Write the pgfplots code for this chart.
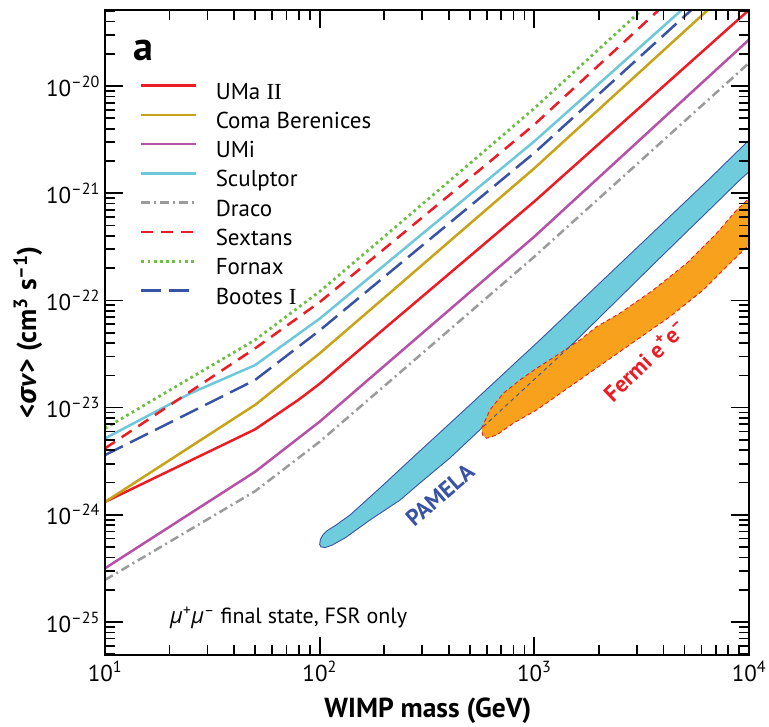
\documentclass[border=0pt]{standalone}
\usepackage{fontspec}
\setmainfont{PT Sans}
\newfontfamily\serifI{Liberation Serif}
\newfontfamily\greekf{Open Sans}
\usepackage{pgfplots}
\pgfplotsset{compat=1.18}
\definecolor{cRed}{RGB}{237,28,36}
\definecolor{cGold}{RGB}{199,163,23}
\definecolor{cMag}{RGB}{183,80,167}
\definecolor{cCyan}{RGB}{108,200,218}
\definecolor{cGray}{RGB}{155,155,155}
\definecolor{cGreen}{RGB}{109,190,69}
\definecolor{cBlue}{RGB}{57,83,164}
\definecolor{cPam}{RGB}{110,204,220}
\definecolor{cFermi}{RGB}{247,161,28}
\begin{document}
\begin{tikzpicture}
\begin{axis}[
  scale only axis, width=644pt, height=645pt,
  xmode=log, ymode=log,
  xmin=10, xmax=10000, ymin=4.92e-26, ymax=5.12e-20,
  axis on top,
  xtick={10,100,1000,10000},
  xticklabels={10\textsuperscript{1},10\textsuperscript{2},10\textsuperscript{3},10\textsuperscript{4}},
  ytick={1e-25,1e-24,1e-23,1e-22,1e-21,1e-20},
  yticklabels={10\textsuperscript{–25},10\textsuperscript{–24},10\textsuperscript{–23},10\textsuperscript{–22},10\textsuperscript{–21},10\textsuperscript{–20}},
  minor xtick={20,30,40,50,60,70,80,90,200,300,400,500,600,700,800,900,2000,3000,4000,5000,6000,7000,8000,9000},
  minor ytick={5e-26,6e-26,7e-26,8e-26,9e-26,
    2e-25,3e-25,4e-25,5e-25,6e-25,7e-25,8e-25,9e-25,
    2e-24,3e-24,4e-24,5e-24,6e-24,7e-24,8e-24,9e-24,
    2e-23,3e-23,4e-23,5e-23,6e-23,7e-23,8e-23,9e-23,
    2e-22,3e-22,4e-22,5e-22,6e-22,7e-22,8e-22,9e-22,
    2e-21,3e-21,4e-21,5e-21,6e-21,7e-21,8e-21,9e-21,
    2e-20,3e-20,4e-20,5e-20},
  tick align=inside,
  major tick length=18.5pt, minor tick length=10pt,
  every tick/.style={black, line width=1.7pt},
  axis line style={line width=2.4pt},
  tick label style={font=\fontsize{23}{26}\selectfont},
  xticklabel style={inner sep=2pt, yshift=-4pt},
  yticklabel style={inner sep=2pt, xshift=-3pt},
  xlabel={WIMP mass (GeV)},
  xlabel style={at={(axis description cs:0.5015,-0.0965)}, anchor=base,
    font=\fontsize{27.5}{30}\selectfont\bfseries},
  ylabel={<{\greekf\bfseries\itshape σ}\textit{v}> (cm\textsuperscript{3} s\textsuperscript{–1})},
  ylabel style={at={(axis description cs:-0.12,0.5)}, anchor=center,
    font=\fontsize{27.5}{30}\selectfont\bfseries},
  legend style={draw=none, fill=none, inner sep=0pt, outer sep=0pt,
    at={(0.0543,0.8884)}, anchor=north west,
    row sep=6.3pt, column sep=18pt,
    nodes={inner sep=0pt, text height=17pt, text depth=6pt, font=\fontsize{23}{27}\selectfont}},
  legend cell align=left,
  legend image code/.code={\draw[#1] (0pt,8pt) -- (55pt,8pt);},
]
% PAMELA band
\addplot[fill=cPam, draw=cBlue, line width=0.9pt, forget plot] coordinates {
 (100.0,5.30e-25) (100.8,5.90e-25) (103.5,6.50e-25) (108.1,7.10e-25) (117.8,7.90e-25) (138.4,9.95e-25)
 (190.9,1.78e-24) (263.4,3.24e-24) (501.2,1.06e-23) (1062,4.28e-23) (2504,2.19e-22)
 (6457,1.33e-21) (10000,3.13e-21)
 (10000,1.59e-21) (9071,1.33e-21) (3846,2.49e-22) (1518,3.98e-23) (578.1,6.64e-24)
 (404.6,3.39e-24) (293.3,1.98e-24) (236.6,1.37e-24) (171.5,8.94e-25) (131.2,6.08e-25)
 (114.0,5.20e-25) (106.0,4.95e-25) (101.5,5.02e-25)} -- cycle;
% Fermi region
\addplot[fill=cFermi, draw=cRed, line width=0.9pt, dash pattern=on 4pt off 3pt, forget plot] coordinates {
 (568.2,6.41e-24) (621.2,9.51e-24) (716.3,1.36e-23) (857.0,1.81e-23) (1025,2.33e-23)
 (1316,3.21e-23) (1631,4.28e-23) (1951,5.69e-23) (2504,7.59e-23) (3579,1.25e-22)
 (5121,2.22e-22) (7065,4.23e-22) (8753,6.97e-22) (10000,8.95e-22)
 (10000,3.29e-22) (8147,2.22e-22) (6118,1.25e-22) (4281,7.05e-23) (2995,4.28e-23)
 (2094,2.59e-23) (1465,1.57e-23) (1025,9.51e-24) (797.3,7.14e-24) (667.4,5.55e-24)
 (599.7,5.18e-24) (574.4,5.55e-24)} -- cycle;
% PAMELA lower edge seen through Fermi region
\addplot[cBlue, line width=0.9pt, dash pattern=on 4pt off 3.5pt, forget plot] coordinates {
 (578.1,6.64e-24) (1518,3.98e-23)};

\addplot[cRed, line width=2.5pt] coordinates {
 (10,1.32e-24) (50,6.27e-24) (80,1.19e-23) (100,1.67e-23) (200,5.45e-23) (500,2.58e-22) (1000,8.38e-22) (10000,5.13e-20)};
\addlegendentry{UMa {\serifI II}}
\addplot[cGold, line width=2.5pt] coordinates {
 (10,1.32e-24) (50,1.06e-23) (100,3.21e-23) (200,1.06e-22) (500,5.18e-22) (1000,1.71e-21) (10000,1.15e-19)};
\addlegendentry{Coma Berenices}
\addplot[cMag, line width=2.5pt] coordinates {
 (10,3.17e-25) (50,2.52e-24) (100,7.40e-24) (200,2.45e-23) (500,1.19e-22) (1000,3.94e-22) (10000,2.71e-20)};
\addlegendentry{UMi}
\addplot[cCyan, line width=2.5pt] coordinates {
 (10,5.16e-24) (25,1.36e-23) (50,2.49e-23) (100,6.76e-23) (200,2.13e-22) (500,9.70e-22) (1000,3.05e-21) (10000,1.86e-19)};
\addlegendentry{Sculptor}
\addplot[cGray, line width=2.5pt, dash pattern=on 9pt off 4pt on 2pt off 4pt] coordinates {
 (10,2.47e-25) (50,1.66e-24) (100,4.81e-24) (200,1.59e-23) (500,7.74e-23) (1000,2.56e-22) (10000,1.64e-20)};
\addlegendentry{Draco}
\addplot[cRed, line width=2.5pt, dash pattern=on 12pt off 8pt] coordinates {
 (10,4.17e-24) (50,3.57e-23) (100,9.64e-23) (200,3.03e-22) (500,1.38e-21) (1000,4.37e-21) (5000,8.51e-20) (10000,3.09e-19)};
\addlegendentry{Sextans}
\addplot[cGreen, line width=2.8pt, dash pattern=on 2.8pt off 3.4pt] coordinates {
 (10,6.41e-24) (50,4.28e-23) (100,1.21e-22) (200,3.94e-22) (500,1.89e-21) (1000,6.21e-21) (3162,5.12e-20) (10000,4.17e-19)};
\addlegendentry{Fornax}
\addplot[cBlue, line width=2.5pt, dash pattern=on 20pt off 8pt] coordinates {
 (10,3.61e-24) (50,1.81e-23) (100,5.25e-23) (200,1.66e-22) (500,7.55e-22) (1000,2.38e-21) (10000,1.58e-19)};
\addlegendentry{Bootes {\serifI I}}

\node[rotate=41, text=cBlue, font=\fontsize{23}{23}\selectfont\bfseries] at (axis cs:363,1.53e-24) {PAMELA};
\node[rotate=44, text=cRed, font=\fontsize{23}{23}\selectfont\bfseries] at (axis cs:3273,2.78e-23) {Fermi e\textsuperscript{+}e\textsuperscript{–}};
\node[anchor=base west, font=\fontsize{40}{40}\selectfont\bfseries] at (rel axis cs:0.039,0.9225) {a};
\node[anchor=base west, font=\fontsize{22}{24}\selectfont] at (rel axis cs:0.0958,0.049)
  {{\greekf\itshape μ}\textsuperscript{+}{\greekf\itshape μ}\textsuperscript{–} final state, FSR only};
\end{axis}
\path ([shift={(-105pt,-67pt)}]current axis.south west) rectangle ++(769pt,722pt);
\end{tikzpicture}
\end{document}
